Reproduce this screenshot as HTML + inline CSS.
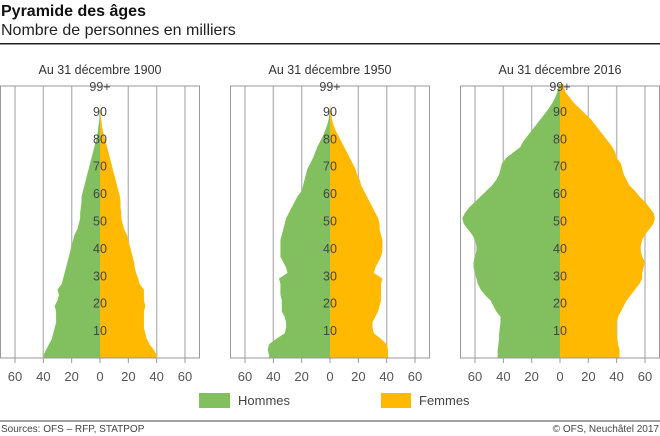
<!DOCTYPE html>
<html><head><meta charset="utf-8"><style>
body{margin:0;background:#fff;font-family:"Liberation Sans",sans-serif;}
svg{display:block}
</style></head><body>
<svg width="660" height="436" viewBox="0 0 660 436">
<text x="1" y="16" font-size="16" font-weight="bold" fill="#111">Pyramide des âges</text>
<text x="1" y="35" font-size="16" fill="#222">Nombre de personnes en milliers</text>
<rect x="0" y="43" width="660" height="1.5" fill="#222"/>
<g id="panels"></g>
<rect x="199" y="393" width="31" height="15" fill="#82bf5f"/>
<text x="238" y="405" font-size="13" fill="#444">Hommes</text>
<rect x="381" y="393" width="30" height="15" fill="#ffb900"/>
<text x="419" y="405" font-size="13" fill="#444">Femmes</text>
<rect x="0" y="420.5" width="660" height="1" fill="#444"/>
<text x="1" y="432" font-size="10" fill="#444">Sources: OFS – RFP, STATPOP</text>
<text x="659" y="432" font-size="10" fill="#444" text-anchor="end">© OFS, Neuchâtel 2017</text>
</svg>
<script>
// ages 0,2,4,...,98 (2-year groups), thousands of persons
const ageGroups = Array.from({length:50},(_,i)=>i*2);
const panelTitles = ["Au 31 décembre 1900","Au 31 décembre 1950","Au 31 décembre 2016"];
const men1900 = [40,38,36,34,33,32,31,31,31,32,30,29,30,27,26,25,24,23,22,21,20,19,18,16,15,14,14,13.5,13,13,12,11,10,9,8,7,6,5,4,3,2,1.5,1,0.5,0.3,0.1,0,0,0,0];
const women1900 = [40,38,35,33,32,31,31,31,31,32,31,31,31,28,27,25.5,24.5,24,23,22,21,20,19,17,16,15,15,14.5,14.5,14,13,12,11,10,9,8,7,6,5,4,3,2,1.3,0.8,0.4,0.2,0,0,0,0];
const men1950 = [43,44,43,38,32,31,31,32,34,34,34,35,35,35,36,30,31,33,35,35,35,35,34,33,32,31,29,27,25,23,20,19,18,17,16,14,12,10.5,9,7,5,3.5,2,1,0.5,0.2,0,0,0,0];
const women1950 = [41,41,40,36,31,30,30,32,34,35,36,36,36,36,37,31,32,34,36,37,37,37,36,35,35,34,32,30,28,26,24,22,21,19,18,16,14,12,10,8,6,4,2.5,1.5,0.7,0.3,0,0,0,0];
const men2016 = [44,44,43.5,43,43,42.5,42,42,45,47,49,53,56,58,59,60,61,61,60,59,59,60,62,65,68,69,67,64,60,56,52,48,45,43,42,41,38,33,28,26,23,20,17,14,11,8,5.5,3.5,2,1];
const women2016 = [42,42,41,40.5,40,40,40,41,43,45,47,50,53,56,58,58,59,60,58,57,57,58,60,63,66,67,66,63,60,56,53,49,47,45,44,43,40,39,37,34,31,28,25,22,18,14,10,7,4,2.5];
const xTicks = [-60,-40,-20,0,20,40,60];
const xTickLabels = ["60","40","20","0","20","40","60"];
const ageTicks = [10,20,30,40,50,60,70,80,90];

const menSeries=[men1900,men1950,men2016], womenSeries=[women1900,women1950,women2016];
const NS="http://www.w3.org/2000/svg";
const root=document.getElementById('panels');
const lefts=[0,230,460], W=199, TOP=86, BOT=358;
function mk(tag,attrs,parent){const e=document.createElementNS(NS,tag);for(const k in attrs)e.setAttribute(k,attrs[k]);parent.appendChild(e);return e;}
lefts.forEach((L,p)=>{
  const g=mk('g',{},root);
  
  
  const z=L+100, s=85/60;
  const xs=v=>z+v*s;
  const ys=a=>BOT-a*2.74;
  const t=mk('text',{x:z,y:74,'font-size':12.5,fill:'#333','text-anchor':'middle'},g);
  t.textContent=panelTitles[p];
  
  
  xTicks.forEach((v,i)=>{
    if(v!==0){const ln=mk('line',{x1:xs(v),x2:xs(v),y1:TOP,y2:BOT,stroke:'#bdbdbd','stroke-width':1.5},g);
      
      }
    const tk=mk('line',{x1:xs(v),x2:xs(v),y1:BOT,y2:BOT+5,stroke:'#999','stroke-width':1},g);
    
    
    const lb=mk('text',{x:xs(v),y:381,'font-size':13,fill:'#555','text-anchor':'middle'},g);
    lb.textContent=xTickLabels[i];
    
    
  });
  function poly(series,sign,color,name){
    let pts=[[z,ys(0)],[xs(sign*series[0]),ys(0)]];
    ageGroups.forEach((a,i)=>{pts.push([xs(sign*series[i]),ys(a+1)]);});
    pts.push([xs(sign*series[series.length-1]),ys(100)]);
    pts.push([z,ys(100)]);
    const e=mk('polygon',{points:pts.map(q=>q.join(',')).join(' '),fill:color},g);
    
    
  }
  poly(menSeries[p],-1,'#82bf5f','men-bars');
  poly(womenSeries[p],1,'#ffb900','women-bars');
  const fr=mk('rect',{x:L+0.5,y:TOP,width:W,height:BOT-TOP,fill:'none',stroke:'#999','stroke-width':1},g);
  
  
  ageTicks.forEach(a=>{
    const lb=mk('text',{x:z,y:ys(a)+4.5,'font-size':12.5,fill:'#444','text-anchor':'middle'},g);
    lb.textContent=a;
    
    
  });
  const top=mk('text',{x:z,y:ys(99)+4.5,'font-size':12.5,fill:'#444','text-anchor':'middle'},g);
  top.textContent='99+';
  
  
});
</script>
</body></html>
